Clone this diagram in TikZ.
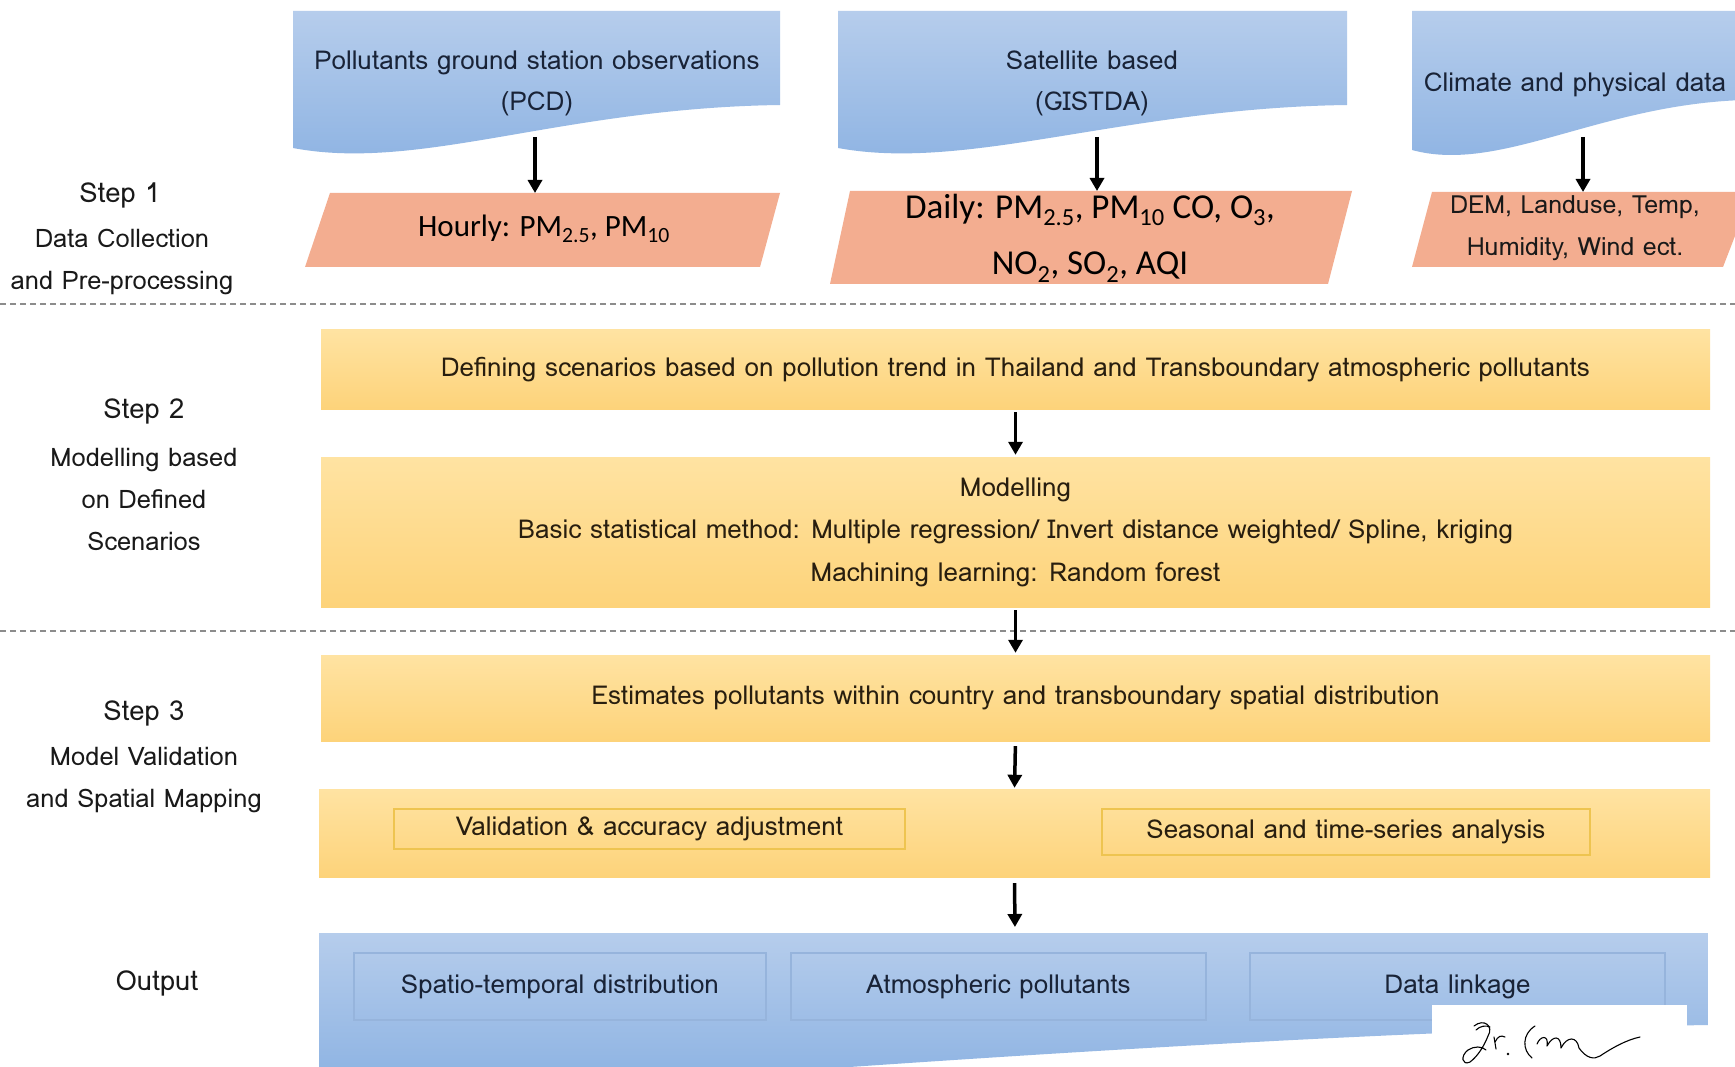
\documentclass[tikz,border=0pt]{standalone}
\usepackage{fontspec}
\setmainfont{Loma}
\newfontfamily\calib{Carlito}
\usetikzlibrary{arrows.meta}
\definecolor{bluA}{RGB}{182,205,236}
\definecolor{bluB}{RGB}{140,178,226}
\definecolor{bluD}{RGB}{150,180,220}
\definecolor{orng}{RGB}{243,173,144}
\definecolor{yelA}{RGB}{255,227,162}
\definecolor{yelB}{RGB}{253,211,122}
\definecolor{yelD}{RGB}{238,196,80}
\definecolor{txtB}{RGB}{25,35,55}
\definecolor{txtY}{RGB}{40,30,15}
\definecolor{txtL}{RGB}{25,25,25}
\definecolor{dash}{RGB}{140,140,140}
\tikzset{
  docshape/.style={top color=bluA, bottom color=bluB, draw=none},
  orshape/.style={fill=orng, draw=none},
  ybox/.style={rectangle, top color=yelA, bottom color=yelB, draw=none, inner sep=0pt, text=txtY, font=\fontsize{26}{42.5}\selectfont, align=center},
  ibox/.style={rectangle, draw=yelD, line width=1.4pt, inner sep=0pt, text=txtY, font=\fontsize{26}{30}\selectfont},
  obox/.style={rectangle, draw=bluD, line width=1.2pt, inner sep=0pt, text=txtB, font=\fontsize{26}{30}\selectfont},
  btxt/.style={text=txtB, font=\fontsize{26}{41}\selectfont, align=center, inner sep=0pt},
  otxt/.style={text=black, align=center, inner sep=0pt},
  steplbl/.style={text=txtL, font=\fontsize{25.5}{42}\selectfont, align=center, inner sep=0pt},
  steptitle/.style={text=txtL, font=\fontsize{27.5}{42}\selectfont, align=center, inner sep=0pt},
  arr/.style={-{Triangle[length=13pt,width=14pt]}, line width=3.5pt, black},
  sepline/.style={draw=dash, line width=1.2pt, dash pattern=on 6pt off 4pt},
  sig/.style={black, line width=1.1pt, line cap=round, line join=round}
}
\begin{document}
\begin{tikzpicture}[x=1pt,y=-1pt]
\useasboundingbox (0,0) rectangle (1735,1067);
\clip (0,0) rectangle (1735,1067);
\fill[white] (0,0) rectangle (1735,1067);

% ---- top document shapes ----
\path[docshape] (293,11) -- (780,11) -- (780,105) .. controls (560,108) and (420,172) .. (293,148) -- cycle;
\path[docshape] (838,11) -- (1347,11) -- (1347,105) .. controls (1125,108) and (968,172) .. (838,148) -- cycle;
\path[docshape] (1412,11) -- (1745,11) -- (1745,100) .. controls (1600,104) and (1500,174) .. (1412,150) -- cycle;

\node[btxt] (d1) at (537,83.5) {Pollutants ground station observations\\(PCD)};
\node[btxt] (d2) at (1092,83.5) {Satellite based\\(GISTDA)};
\node[btxt] (d3) at (1575,84.5) {Climate and physical data};

% ---- orange parallelograms ----
\path[orshape] (330,193) -- (780,193) -- (760,267) -- (305,267) -- cycle;
\path[orshape] (850,191) -- (1352,191) -- (1328,284) -- (830,284) -- cycle;
\path[orshape] (1432,192) -- (1752,192) -- (1723,267) -- (1412,267) -- cycle;

\node[otxt, font=\calib\fontsize{31}{40}\selectfont] (o1) at (544,229) {Hourly: PM\textsubscript{2.5}, PM\textsubscript{10}};
\node[otxt, font=\calib\fontsize{35}{40}\selectfont] (o2a) at (1090,210) {Daily: PM\textsubscript{2.5}, PM\textsubscript{10} CO, O\textsubscript{3},};
\node[otxt, font=\calib\fontsize{35}{40}\selectfont] (o2b) at (1090,267) {NO\textsubscript{2}, SO\textsubscript{2}, AQI};
\node[otxt, text=txtL, font=\fontsize{25}{42}\selectfont] (o3) at (1575,228.5) {DEM, Landuse, Temp,\\Humidity, Wind ect.};

% arrow end points
\coordinate (d1b) at (535,137);
\coordinate (o1t) at (535,193);
\coordinate (d2b) at (1097,137);
\coordinate (o2t) at (1097,191);
\coordinate (d3b) at (1583,137);
\coordinate (o3t) at (1583,192);
\draw[arr] (d1b) -- (o1t);
\draw[arr] (d2b) -- (o2t);
\draw[arr] (d3b) -- (o3t);

% ---- separators ----
\coordinate (s1l) at (0,304);
\coordinate (s1r) at (1735,304);
\coordinate (s2l) at (0,631);
\coordinate (s2r) at (1735,631);
\draw[sepline] (s1l) -- (s1r);
\draw[sepline] (s2l) -- (s2r);

% ---- step labels ----
\node[steptitle] (st1) at (120,195) {Step 1};
\node[steplbl] (st1b) at (122,262) {Data Collection\\and Pre-processing};
\node[steptitle] (st2) at (144,411.5) {Step 2};
\node[steplbl] (st2b) at (144,499) {Modelling based\\on Defined\\Scenarios};
\node[steptitle] (st3) at (144,713) {Step 3};
\node[steplbl] (st3b) at (144,780) {Model Validation\\and Spatial Mapping};
\node[steptitle] (outl) at (157,983) {Output};

% ---- yellow boxes ----
\node[ybox, minimum width=1389pt, minimum height=79pt] (scen) at (1015.5,369.5) {\raisebox{-2pt}{Defining scenarios based on pollution trend in Thailand and Transboundary atmospheric pollutants}};
\node[ybox, minimum width=1389pt, minimum height=150pt] (model) at (1015.5,532) {Modelling\\Basic statistical method: Multiple regression/ Invert distance weighted/ Spline, kriging\\Machining learning: Random forest};
\node[ybox, minimum width=1389pt, minimum height=86pt] (est) at (1015.5,698) {\raisebox{-1pt}{Estimates pollutants within country and transboundary spatial distribution}};
\node[ybox, minimum width=1391pt, minimum height=88pt] (val) at (1014.5,833) {};
\node[ibox, minimum width=511pt, minimum height=40pt] (val1) at (649.5,829) {Validation \& accuracy adjustment};
\node[ibox, minimum width=488pt, minimum height=46pt] (val2) at (1346,832) {Seasonal and time-series analysis};

% ---- output ----
\path[docshape] (319,933) -- (1708,933) -- (1708,1025) .. controls (1400,1030) and (1000,1055) .. (600,1085) -- (319,1085) -- cycle;
\coordinate (outtop) at (1015,933);
\node[obox, minimum width=412pt, minimum height=67pt] (out1) at (560,986.5) {Spatio-temporal distribution};
\node[obox, minimum width=415pt, minimum height=67pt] (out2) at (998.5,986.5) {Atmospheric pollutants};
\node[obox, minimum width=415pt, minimum height=67pt] (out3) at (1457.5,986.5) {Data linkage};

% ---- vertical arrows ----
\draw[arr, shorten <=3pt, shorten >=2pt] (scen.south) -- (model.north);
\draw[arr, shorten <=3pt, shorten >=2pt] (model.south) -- (est.north);
\draw[arr, shorten <=5pt, shorten >=1pt] (est.south) -- (val.north);
\draw[arr, shorten <=6pt, shorten >=6pt] (val.south) -- (outtop);

% ---- signature box ----
\fill[white] (1432,1005) rectangle (1687,1070);
\draw[sig]
  (1474,1026) .. controls (1484,1018) and (1494,1026) .. (1488,1036)
  .. controls (1484,1046) and (1478,1056) .. (1470,1062)
  .. controls (1462,1066) and (1460,1056) .. (1468,1050)
  .. controls (1474,1046) and (1482,1046) .. (1486,1050);
\draw[sig] (1476,1030) .. controls (1480,1026) and (1486,1025) .. (1490,1027);
\draw[sig] (1494,1037) -- (1496,1049);
\draw[sig] (1495,1042) .. controls (1498,1036) and (1501,1035) .. (1505,1037);
\fill[black] (1508,1054) circle (1.4pt);
\draw[sig] (1535,1026) .. controls (1522,1034) and (1522,1050) .. (1532,1058);
\draw[sig]
  (1537,1044) .. controls (1540,1036) and (1549,1034) .. (1547,1046)
  .. controls (1553,1035) and (1561,1035) .. (1561,1048)
  .. controls (1567,1036) and (1577,1036) .. (1579,1048)
  .. controls (1586,1058) and (1594,1060) .. (1600,1056)
  .. controls (1612,1048) and (1626,1040) .. (1640,1037);
\end{tikzpicture}
\end{document}
